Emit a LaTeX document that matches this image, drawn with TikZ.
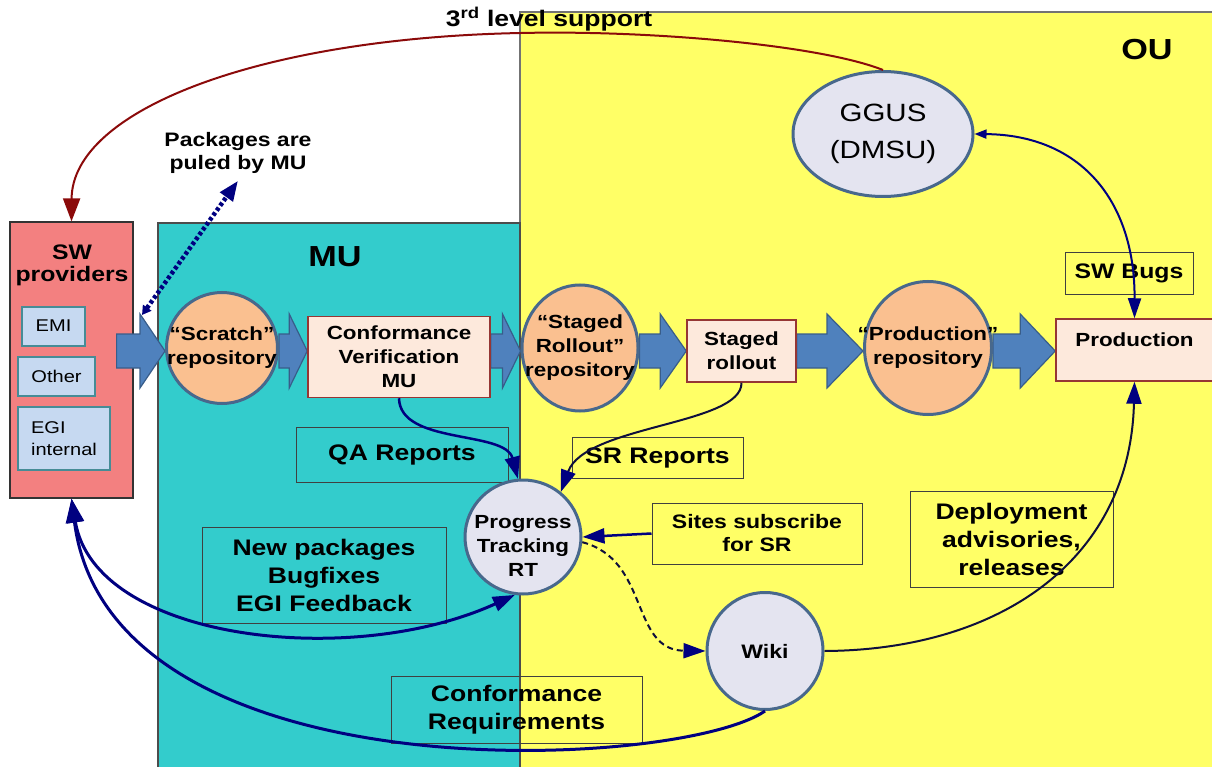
\documentclass[tikz,border=0pt]{standalone}
\usepackage{fontspec}
\setmainfont{Liberation Sans}[FakeStretch=1.18]
\usetikzlibrary{arrows.meta,shapes.geometric,calc,backgrounds}
\definecolor{ouyellow}{RGB}{255,255,102}
\definecolor{mucyan}{RGB}{51,204,204}
\definecolor{swsalmon}{RGB}{243,128,128}
\definecolor{srcblue}{RGB}{198,217,241}
\definecolor{srcedge}{RGB}{70,140,150}
\definecolor{repoorange}{RGB}{250,192,144}
\definecolor{ringblue}{RGB}{72,104,140}
\definecolor{tracklav}{RGB}{228,228,240}
\definecolor{stagepink}{RGB}{253,233,220}
\definecolor{stageedge}{RGB}{150,54,52}
\definecolor{fatblue}{RGB}{79,129,189}
\definecolor{fatedge}{RGB}{56,93,138}
\definecolor{navyline}{RGB}{0,0,128}
\definecolor{darkline}{RGB}{15,15,60}
\definecolor{supportred}{RGB}{139,10,10}

% block arrow between two points on the same height, #1 = head length
\newcommand{\fatarrow}[3][30]{%
  \filldraw[fatarr] ($(#2)+(0,17)$) -- ($(#3)+(-#1,17)$) -- ($(#3)+(-#1,37)$) -- (#3)
    -- ($(#3)+(-#1,-37)$) -- ($(#3)+(-#1,-17)$) -- ($(#2)+(0,-17)$) -- cycle;}

\begin{document}
\begin{tikzpicture}[x=1pt, y=1pt,
    provider/.style={rectangle, draw=black!80, fill=swsalmon, line width=1.2},
    srcitem/.style={rectangle, draw=srcedge, fill=srcblue, line width=2, align=left,
        font=\fontsize{17}{22}\selectfont},
    repo/.style={ellipse, draw=ringblue, fill=repoorange, line width=3, inner sep=0},
    tracker/.style={ellipse, draw=ringblue, fill=tracklav, line width=3, inner sep=0, align=center},
    stagebox/.style={rectangle, draw=stageedge, fill=stagepink, line width=1.5, align=center,
        font=\bfseries\fontsize{19}{24}\selectfont},
    note/.style={rectangle, draw=black!75, line width=1, inner sep=2, align=center,
        font=\bfseries\fontsize{22.5}{28}\selectfont},
    pipetext/.style={align=center, inner sep=0, font=\bfseries\fontsize{19}{24}\selectfont},
    unit/.style={font=\bfseries\fontsize{29}{34}\selectfont},
    fatarr/.style={fill=fatblue, draw=fatedge, line width=1.2},
    navarr/.style={draw=navyline, line width=2.5, -{Triangle[length=22pt,width=15pt]}},
    darkarr/.style={draw=darkline, line width=2, -{Triangle[length=22pt,width=15pt,color=navyline]}},
    support/.style={draw=supportred, line width=2, -{Triangle[length=23pt,width=17pt]}}
]
\useasboundingbox (0,0) rectangle (1212,-767);

\begin{scope}[on background layer]
\filldraw[fill=ouyellow, draw=black!55, line width=1.5] (520,-12) rectangle (1214,-770);
\filldraw[fill=mucyan, draw=black!70, line width=1.2] (158,-223) rectangle (520,-770);
\node[provider, minimum width=123, minimum height=276] (sw) at (71.5,-360) {};
\end{scope}

\node[unit] (mulbl) at (335,-257) {MU};
\node[unit] (oulbl) at (1147,-50) {OU};
\node[font=\bfseries\fontsize{22.5}{26}\selectfont] (supportlbl) at (549,-19)
    {3\textsuperscript{rd} level support};
\node[pipetext, font=\bfseries\fontsize{19.5}{23}\selectfont] (pulled) at (238,-153)
    {Packages are\\puled by MU};

% software providers
\node[pipetext, font=\bfseries\fontsize{21}{22}\selectfont] (swtitle) at (72,-265) {SW\\providers};
\node[srcitem, minimum width=63, minimum height=39] (emi) at (53.5,-326) {EMI};
\node[srcitem, minimum width=77, minimum height=39] (other) at (56.5,-376) {Other};
\node[srcitem, minimum width=92, minimum height=63] (egi) at (64,-438.5) {EGI\\internal};

% release pipeline
\node[repo, minimum width=111, minimum height=111] (scratch) at (222,-348) {};
\node[pipetext] (scratchtxt) at (scratch) {“Scratch”\\repository};
\node[stagebox, minimum width=182, minimum height=81] (conf) at (399,-357)
    {Conformance\\Verification\\MU};
\node[repo, minimum width=116, minimum height=126] (stagedrepo) at (580,-348) {};
\node[pipetext] (stagedrepotxt) at (stagedrepo) {“Staged\\Rollout”\\repository};
\node[stagebox, minimum width=109, minimum height=62] (staged) at (741.5,-351) {Staged\\rollout};
\node[repo, minimum width=127, minimum height=133] (prodrepo) at (928,-348) {};
\node[pipetext] (prodrepotxt) at (prodrepo) {“Production”\\repository};
\node[stagebox, minimum width=157, minimum height=62, text depth=20] (prod) at (1134.5,-350)
    {Production};

\node[note, font=\bfseries\fontsize{21}{24}\selectfont, minimum width=128, minimum height=41]
    (swbugs) at (1129,-273.5) {SW Bugs};
\node[tracker, minimum width=180, minimum height=125, font=\fontsize{25}{37}\selectfont]
    (ggus) at (883,-134) {GGUS\\(DMSU)};

% reports and tracking
\node[note, minimum width=212, minimum height=55] (qa) at (402,-454.5) {QA Reports};
\node[note, minimum width=171, minimum height=41] (sr) at (657.5,-457.5) {SR Reports};
\node[tracker, minimum width=116, minimum height=114] (prog) at (523,-537) {};
\node[pipetext] (progtxt) at ([yshift=-9]prog.center) {Progress\\Tracking\\RT};
\node[note, font=\bfseries\fontsize{19.5}{23}\selectfont, minimum width=210, minimum height=61]
    (sites) at (757,-533.5) {Sites subscribe\\for SR};
\node[note, minimum width=203, minimum height=96] (deploy) at (1011.5,-539)
    {Deployment\\advisories,\\releases};
\node[note, minimum width=244, minimum height=96] (newpk) at (324,-575)
    {New packages\\Bugfixes\\EGI Feedback};
\node[tracker, minimum width=116, minimum height=117, font=\bfseries\fontsize{19.5}{23}\selectfont]
    (wiki) at (765,-651) {Wiki};
\node[note, minimum width=251, minimum height=67] (confreq) at (516.5,-709.5)
    {Conformance\\Requirements};

% block arrows of the pipeline
\coordinate (pipe) at (0,-351);
\coordinate (f1a) at ([xshift=-17]sw.east |- pipe);
\coordinate (f1b) at (scratch.west |- pipe);
\coordinate (f2a) at (scratch.east |- pipe);
\coordinate (f2b) at (conf.west |- pipe);
\coordinate (f3a) at (conf.east |- pipe);
\coordinate (f3b) at (stagedrepo.west |- pipe);
\coordinate (f4a) at (stagedrepo.east |- pipe);
\coordinate (f4b) at (staged.west |- pipe);
\coordinate (f5a) at (staged.east |- pipe);
\coordinate (f5b) at (prodrepo.west |- pipe);
\coordinate (f6a) at (prodrepo.east |- pipe);
\coordinate (f6b) at (prod.west |- pipe);
\begin{scope}[on background layer]
\fatarrow[25]{f1a}{f1b}
\fatarrow[18]{f2a}{f2b}
\fatarrow[18]{f3a}{f3b}
\fatarrow[26]{f4a}{f4b}
\fatarrow[36]{f5a}{f5b}
\fatarrow[35]{f6a}{f6b}
\end{scope}

% connectors
\draw[support] (ggus.north) .. controls (820,-45) and (650,-30) .. (521,-33)
    .. controls (260,-38) and (72,-110) .. (sw.north);
\coordinate (pullfoot) at (142,-315);
\draw[navyline, line width=4.5, dash pattern=on 3.5pt off 2.5pt,
    {Triangle[length=9pt,width=10pt]}-{Triangle[length=20pt,width=15pt]}]
    (pullfoot) -- ([yshift=-7]pulled.south);
\draw[navyline, line width=2,
    {Triangle[length=12pt,width=9pt]}-{Triangle[length=20pt,width=13pt]}]
    (ggus.east) .. controls (1080,-135) and (1135,-200) .. (prod.north);
\draw[navarr] (conf.south) .. controls (400,-445) and (505,-430) .. (prog.95);
\draw[darkarr] (staged.south) .. controls (742,-425) and (585,-425) .. (prog.50);
\draw[navarr] (sites.west) -- (prog.east);
\draw[darkarr, dash pattern=on 6pt off 4pt] (prog.-5) .. controls (650,-560) and (630,-650) .. (wiki.west);
\draw[darkarr] (wiki.east) .. controls (1000,-650) and (1130,-560) .. (prod.south);
\draw[navarr, line width=3, {Triangle[length=24pt,width=17pt]}-{Triangle[length=22pt,width=15pt]}]
    (sw.south) .. controls (95,-640) and (350,-670) .. (prog.262);
\draw[navarr, line width=3, {Triangle[length=24pt,width=17pt]}-]
    (sw.south) .. controls (110,-800) and (680,-770) .. (wiki.south);
\end{tikzpicture}
\end{document}
